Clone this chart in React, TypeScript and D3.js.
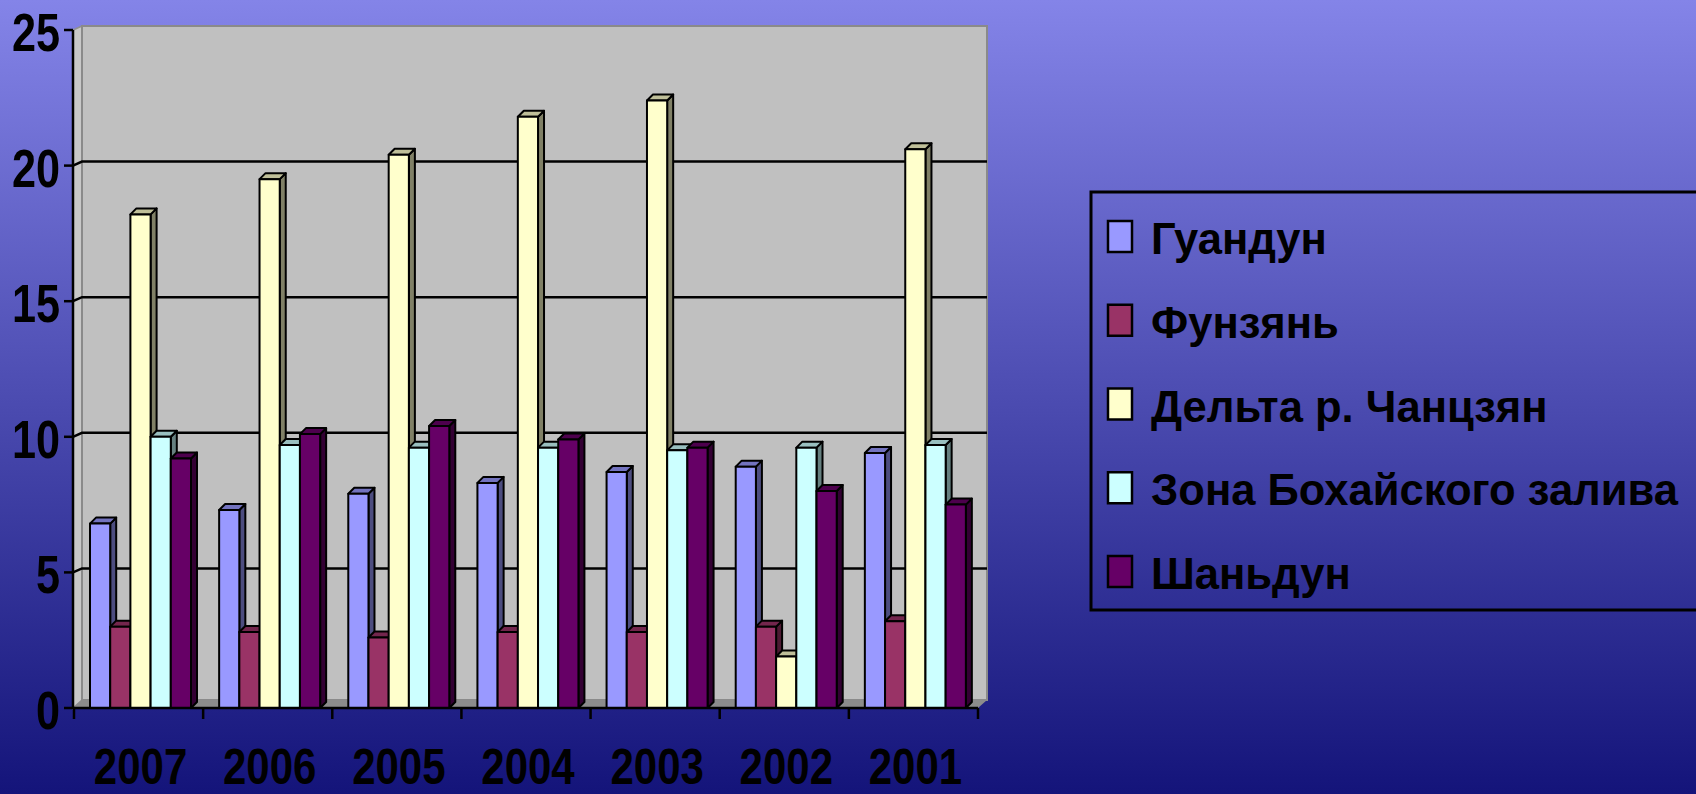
import React, { useEffect, useRef } from 'react';
import * as d3 from 'd3';

// values
const years = ['2007', '2006', '2005', '2004', '2003', '2002', '2001'];
const seriesNames = ['Гуандун', 'Фунзянь', 'Дельта р. Чанцзян', 'Зона Бохайского залива', 'Шаньдун'];
const guangdong = [6.8, 7.3, 7.9, 8.3, 8.7, 8.9, 9.4];
const fujian = [3.0, 2.8, 2.6, 2.8, 2.8, 3.0, 3.2];
const yangtzeDelta = [18.2, 19.5, 20.4, 21.8, 22.4, 1.9, 20.6];
const bohai = [10.0, 9.7, 9.6, 9.6, 9.5, 9.6, 9.7];
const shandong = [9.2, 10.1, 10.4, 9.9, 9.6, 8.0, 7.5];
const colors = ['#9999FF', '#993366', '#FFFFCC', '#CCFFFF', '#660066'];
const yTicks = [0, 5, 10, 15, 20, 25];

const W = 1696;
const H = 794;

const shade = (c: string, k: number) => {
  const r = d3.rgb(c);
  return d3.rgb(r.r * k, r.g * k, r.b * k).formatHex();
};

export default function App() {
  const ref = useRef<SVGSVGElement>(null);

  useEffect(() => {
    const svg = d3.select(ref.current);
    svg.selectAll('*').remove();

    const values = [guangdong, fujian, yangtzeDelta, bohai, shandong];

    const x = d3.scaleBand().domain(years).range([74, 978]);
    const xs = d3.scaleBand().domain(seriesNames).range([0, 101]);
    const y = d3.scaleLinear().domain([0, 25]).range([708, 30]);
    const base = y(0);
    const dx = 6;
    const dy = 6;

    // background
    const defs = svg.append('defs');
    const grad = defs
      .append('linearGradient')
      .attr('id', 'bg')
      .attr('x1', 0)
      .attr('y1', 0)
      .attr('x2', 0)
      .attr('y2', 1);
    grad.append('stop').attr('offset', 0).attr('stop-color', '#8484E8');
    grad.append('stop').attr('offset', 1).attr('stop-color', '#14147A');
    svg.append('rect').attr('width', W).attr('height', H).attr('fill', 'url(#bg)');

    /* ------- WALLS -------*/
    const walls = svg.append('g');
    walls
      .append('polygon')
      .attr('points', [[73, base], [73, y(25)], [82, y(25) - 4], [82, base - 8]].join(' '))
      .attr('fill', '#C8C8C8')
      .attr('stroke', '#909090')
      .attr('stroke-width', 1.5);
    walls
      .append('rect')
      .attr('x', 82)
      .attr('y', y(25) - 4)
      .attr('width', 905)
      .attr('height', base - 8 - (y(25) - 4))
      .attr('fill', '#C0C0C0')
      .attr('stroke', '#8A8A8A')
      .attr('stroke-width', 2);
    walls
      .append('polygon')
      .attr('points', [[73, base], [978, base], [987, base - 8], [82, base - 8]].join(' '))
      .attr('fill', '#8C8C8C');

    // gridlines
    walls
      .selectAll('path.grid')
      .data(yTicks.filter(t => t > 0 && t < 25))
      .enter()
      .append('path')
      .attr('class', 'grid')
      .attr('d', t => `M73,${y(t)}L82,${y(t) - 4}H987`)
      .attr('fill', 'none')
      .attr('stroke', '#000')
      .attr('stroke-width', 2.5);

    /* ------- BARS -------*/
    const bars = svg.append('g');
    years.forEach((yr, ci) => {
      seriesNames.forEach((name, si) => {
        const v = values[si][ci];
        const c = colors[si];
        const x0 = (x(yr) as number) + 16 + (xs(name) as number);
        const w = xs.bandwidth();
        const top = y(v);
        const g = bars.append('g').attr('stroke', '#000').attr('stroke-width', 2).attr('stroke-linejoin', 'round');
        g.append('polygon')
          .attr('points', [[x0 + w, top], [x0 + w + dx, top - dy], [x0 + w + dx, base - dy], [x0 + w, base]].join(' '))
          .attr('fill', shade(c, 0.5));
        g.append('polygon')
          .attr('points', [[x0, top], [x0 + dx, top - dy], [x0 + w + dx, top - dy], [x0 + w, top]].join(' '))
          .attr('fill', shade(c, 0.75));
        g.append('rect')
          .attr('x', x0)
          .attr('y', top)
          .attr('width', w)
          .attr('height', base - top)
          .attr('fill', c);
      });
    });

    /* ------- AXES -------*/
    const axes = svg.append('g').attr('stroke', '#000').attr('stroke-width', 2.5);
    axes.append('line').attr('x1', 73).attr('x2', 73).attr('y1', y(25)).attr('y2', base);
    axes.append('line').attr('x1', 73).attr('x2', 978).attr('y1', base).attr('y2', base);
    axes
      .selectAll('line.ytick')
      .data(yTicks)
      .enter()
      .append('line')
      .attr('class', 'ytick')
      .attr('x1', 64)
      .attr('x2', 73)
      .attr('y1', t => y(t))
      .attr('y2', t => y(t));
    const xTickPos = years.map(yr => x(yr) as number).concat([978]);
    axes
      .selectAll('line.xtick')
      .data(xTickPos)
      .enter()
      .append('line')
      .attr('class', 'xtick')
      .attr('x1', d => d)
      .attr('x2', d => d)
      .attr('y1', base)
      .attr('y2', base + 11);

    const labelFont = 'Liberation Sans, Arial, sans-serif';
    svg
      .append('g')
      .selectAll('text')
      .data(yTicks)
      .enter()
      .append('text')
      .attr('transform', t => `translate(60,${y(t) + 21}) scale(0.8,1)`)
      .attr('text-anchor', 'end')
      .attr('font-family', labelFont)
      .attr('font-weight', 'bold')
      .attr('font-size', 54)
      .attr('fill', '#000')
      .text(t => t);

    svg
      .append('g')
      .selectAll('text')
      .data(years)
      .enter()
      .append('text')
      .attr('transform', yr => `translate(${(x(yr) as number) + x.bandwidth() / 2 + 2},784) scale(0.84,1)`)
      .attr('text-anchor', 'middle')
      .attr('font-family', labelFont)
      .attr('font-weight', 'bold')
      .attr('font-size', 50)
      .attr('fill', '#000')
      .text(yr => yr);

    /* ------- LEGEND -------*/
    const legend = svg.append('g');
    legend
      .append('rect')
      .attr('x', 1091)
      .attr('y', 192)
      .attr('width', 640)
      .attr('height', 418)
      .attr('fill', 'none')
      .attr('stroke', '#000')
      .attr('stroke-width', 3);
    const ly = d3.scalePoint().domain(seriesNames).range([236, 571]);
    const item = legend
      .selectAll('g.item')
      .data(seriesNames)
      .enter()
      .append('g')
      .attr('class', 'item')
      .attr('transform', d => `translate(0,${ly(d)})`);
    item
      .append('rect')
      .attr('x', 1108)
      .attr('y', -15)
      .attr('width', 24)
      .attr('height', 31)
      .attr('fill', (d, i) => colors[i])
      .attr('stroke', '#000')
      .attr('stroke-width', 2.5);
    item
      .append('text')
      .attr('transform', 'translate(1151,18) scale(0.99,1)')
      .attr('font-family', labelFont)
      .attr('font-weight', 'bold')
      .attr('font-size', 44)
      .attr('fill', '#000')
      .text(d => d);
  }, []);

  return (
    <svg
      ref={ref}
      width={W}
      height={H}
      style={{ position: 'absolute', left: 0, top: 0, display: 'block' }}
    />
  );
}
